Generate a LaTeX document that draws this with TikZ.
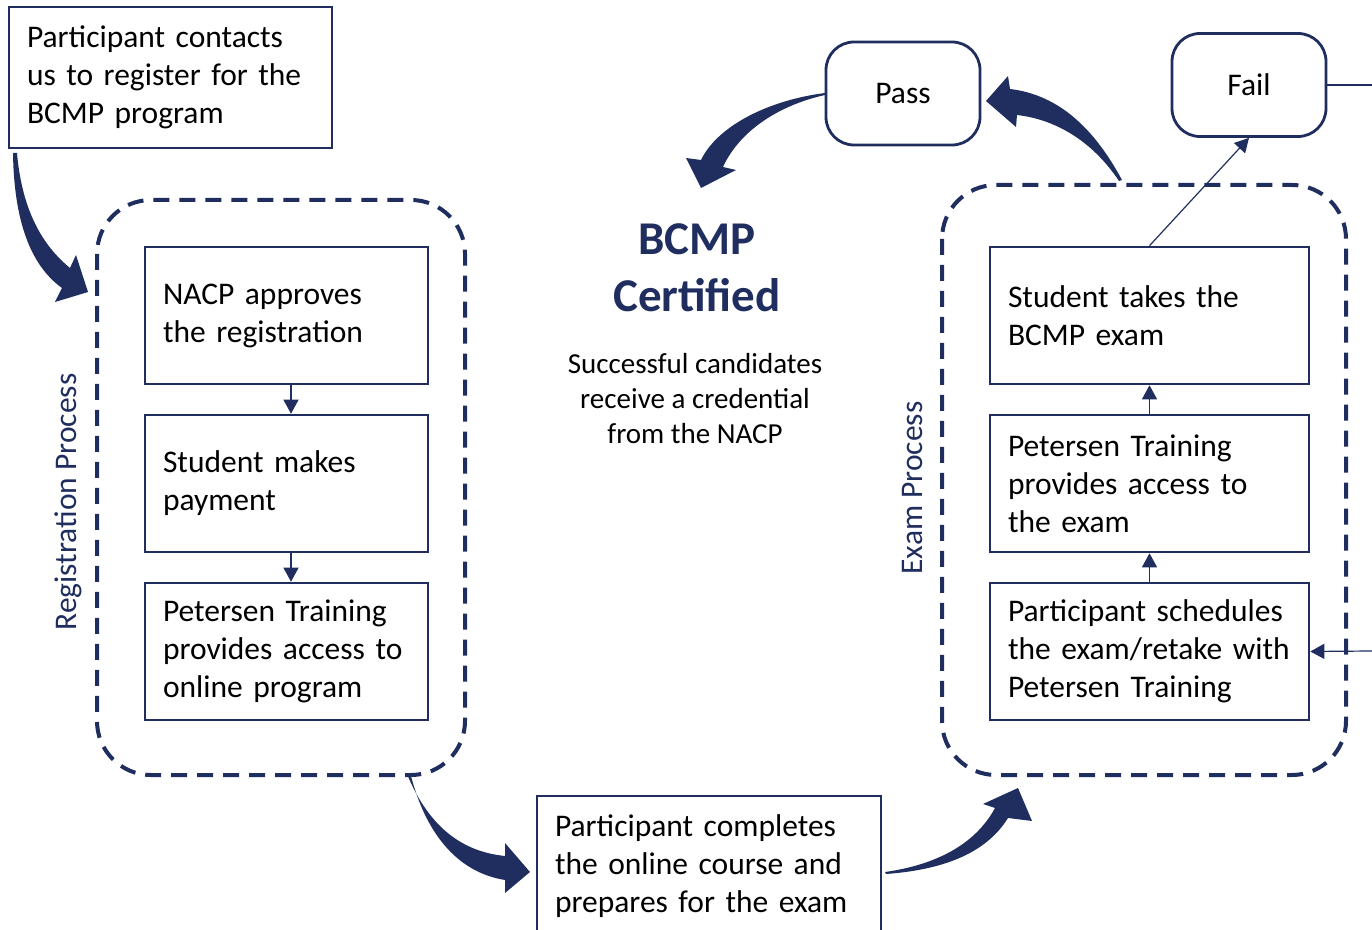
\documentclass[tikz,border=0pt]{standalone}
\usepackage{fontspec}
\setmainfont{Carlito}
\usetikzlibrary{arrows.meta}
\definecolor{navy}{RGB}{31,46,94}
\tikzset{
  box/.style={draw=navy, line width=1.3pt, inner xsep=9pt, text width=#1, align=left, minimum height=68.5pt, font=\fontsize{15.75}{19}\selectfont},
  roundbox/.style={draw=navy, line width=1.4pt, rounded corners=14pt, minimum width=77pt, minimum height=51.5pt, font=\fontsize{15.75}{19}\selectfont},
  group/.style={draw=navy, line width=2pt, dash pattern=on 8pt off 5pt, rounded corners=27pt},
  flow/.style={draw=navy, line width=0.6pt, -{Triangle[width=7.5pt,length=7pt]}}
}
\begin{document}
\begin{tikzpicture}[x=0.5pt, y=-0.5pt]
\useasboundingbox (0,0) rectangle (1372,930);
% registration side
\node[box=143.5pt, minimum height=70.5pt] (contact) at (170.5,77.5) {Participant contacts\\us to register for the\\BCMP program};
\draw[group] (97,200) rectangle (465,775);
\node[rotate=90, text=navy, font=\fontsize{15.75}{19}\selectfont] (reglabel) at (68,502) {Registration Process};
\node[box=123.5pt] (approve) at (286.5,315.5) {NACP approves\\the registration};
\node[box=123.5pt] (payment) at (286.5,483.5) {Student makes\\payment};
\node[box=123.5pt] (online) at (286.5,651.5) {Petersen Training\\provides access to\\online program};
\draw[flow] ([xshift=2.25pt]approve.south) -- ([xshift=2.25pt]payment.north);
\draw[flow] ([xshift=2.25pt]payment.south) -- ([xshift=2.25pt]online.north);
% middle
\node[box=154pt, minimum height=70pt] (course) at (709,866) {Participant completes\\the online course and\\prepares for the exam};
\node[align=center, text=navy, font=\fontsize{23.5}{28.5}\selectfont\bfseries] (certified) at (697,268) {BCMP\\Certified};
\node[align=center, font=\fontsize{14.5}{17.5}\selectfont] (credential) at (695,399) {Successful candidates\\receive a credential\\from the NACP};
\node[roundbox] (pass) at (903,93.5) {Pass};
\node[roundbox] (fail) at (1249,85) {Fail};
% exam side
\draw[group] (942,185) rectangle (1346,775);
\node[rotate=90, text=navy, font=\fontsize{15.75}{19}\selectfont] (examlabel) at (913,488) {Exam Process};
\node[box=141.5pt] (exam) at (1149.5,315.5) {Student takes the\\BCMP exam};
\node[box=141.5pt] (access) at (1149.5,483.5) {Petersen Training\\provides access to\\the exam};
\node[box=141.5pt] (schedule) at (1149.5,651.5) {Participant schedules\\the exam/retake with\\Petersen Training};
\draw[flow] (schedule.north) -- (access.south);
\draw[flow] (access.north) -- (exam.south);
\draw[flow] (exam.north) -- (fail.south);
\coordinate (failout) at (1372,85);
\coordinate (retake) at (1372,651);
\draw[navy, line width=0.6pt] (fail.east) -- (failout);
\draw[flow] (retake) -- (schedule.east);
% block arrows
\fill[navy] (13,153) .. controls (14,220) and (30,265) .. (62,288) -- (55,302) -- (88,292) -- (76,255) -- (70,268) .. controls (42,245) and (22,210) .. (17,153) -- cycle;
\fill[navy] (407,774) .. controls (430,830) and (465,852) .. (505,856) -- (505,843) -- (530,872) -- (505,893) -- (505,880) .. controls (455,872) and (425,830) .. (411,776) -- cycle;
\fill[navy] (885,872) .. controls (935,865) and (975,845) .. (995,808) -- (983,804) -- (1018,788) -- (1032,821) -- (1008,818) .. controls (985,855) and (940,870) .. (886,874) -- cycle;
\fill[navy] (1122,180) .. controls (1095,130) and (1060,95) .. (1010,89) -- (1008,76) -- (986,101) -- (1016,127) -- (1017,115) .. controls (1060,120) and (1095,145) .. (1119,181) -- cycle;
\fill[navy] (825,93) .. controls (770,100) and (718,125) .. (701,160) -- (686,158) -- (701,188) -- (736,170) -- (723,167) .. controls (740,130) and (780,105) .. (825,95) -- cycle;
\end{tikzpicture}
\end{document}
